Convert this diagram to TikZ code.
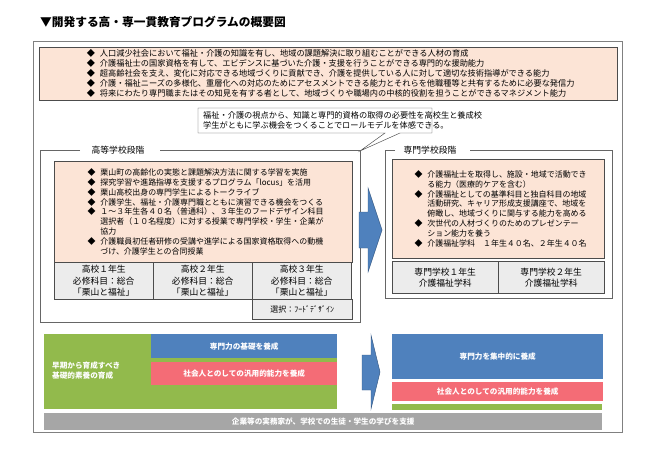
\documentclass[tikz,border=0pt]{standalone}
\usepackage{fontspec}
\setmainfont{Noto Sans CJK JP}
\definecolor{peach}{RGB}{252,228,214}
\definecolor{cellgray}{RGB}{236,236,236}
\definecolor{barblue}{RGB}{79,129,189}
\definecolor{barred}{RGB}{244,108,118}
\definecolor{bargreen}{RGB}{146,186,76}
\definecolor{bargray}{RGB}{166,166,166}
\newcommand{\itm}{\makebox[2.2em][l]{\hspace{0.6em}◆}}
\newcommand{\ind}{\hspace*{2.2em}}
\tikzset{
  peachbox/.style={draw=black!70,fill=peach,anchor=north west,inner sep=2pt,align=left},
  cellbox/.style={draw=black!70,fill=cellgray,anchor=north west,inner sep=0pt,align=center,font=\fontsize{7.5}{9.5}\selectfont},
  barbox/.style={anchor=north west,inner sep=0pt,text=white,font=\fontsize{6.5}{8}\selectfont\bfseries},
  bigarrow/.style={fill=barblue,draw=barblue!70!black}
}
\begin{document}
\begin{tikzpicture}[x=0.03cm,y=-0.03cm]
\useasboundingbox (0,0) rectangle (650,450);
\def\pgfxy{0.03cm}

% title
\node[anchor=west,font=\fontsize{10}{12}\selectfont\bfseries] (title) at (36,22) {▼開発する高・専一貫教育プログラムの概要図};
\draw[black!50] (33,41) rectangle (622,432);

% goals
\node[peachbox,minimum width=578*\pgfxy,font=\fontsize{7}{8.6}\selectfont] (goals) at (39,47) {%
\itm 人口減少社会において福祉・介護の知識を有し、地域の課題解決に取り組むことができる人材の育成\\
\itm 介護福祉士の国家資格を有して、エビデンスに基づいた介護・支援を行うことができる専門的な援助能力\\
\itm 超高齢社会を支え、変化に対応できる地域づくりに貢献でき、介護を提供している人に対して適切な技術指導ができる能力\\
\itm 介護・福祉ニーズの多様化、重層化への対応のためにアセスメントできる能力とそれらを他職種等と共有するために必要な発信力\\
\itm 将来にわたり専門職またはその知見を有する者として、地域づくりや職場内の中核的役割を担うことができるマネジメント能力};

% callout
\coordinate (tail) at (360,151);
\draw[black!70,fill=white] (198,108) -- (432,108) -- (432,133) -- (400,133) -- (tail) -- (385,133) -- (198,133) -- cycle;
\node[anchor=north west,align=left,inner sep=0pt,font=\fontsize{7}{9}\selectfont] (note) at (203,111) {福祉・介護の視点から、知識と専門的資格の取得の必要性を高校生と養成校\\学生がともに学ぶ機会をつくることでロールモデルを体感できる。};

% high school stage
\draw[black!60] (80,150) -- (40,150) -- (40,322) -- (360,322) -- (360,150) -- (160,150);
\node[font=\fontsize{7.5}{9}\selectfont] (hslabel) at (118,150) {高等学校段階};
\node[peachbox,minimum width=298*\pgfxy,minimum height=101*\pgfxy,font=\fontsize{6.8}{8.4}\selectfont] (hsbox) at (54,161) {%
\itm 栗山町の高齢化の実態と課題解決方法に関する学習を実施\\
\itm 探究学習や進路指導を支援するプログラム「locus」を活用\\
\itm 栗山高校出身の専門学生によるトークライブ\\
\itm 介護学生、福祉・介護専門職とともに演習できる機会をつくる\\
\itm １～３年生各４０名（普通科）、３年生のフードデザイン科目\\
\ind 選択者（１０名程度）に対する授業で専門学校・学生・企業が\\
\ind 協力\\
\itm 介護職員初任者研修の受講や進学による国家資格取得への動機\\
\ind づけ、介護学生との合同授業};
\foreach \i/\x in {１/54,２/153,３/252}
  \node[cellbox,minimum width=99*\pgfxy,minimum height=37*\pgfxy] (hs\x) at (\x,262) {高校\i 年生\\必修科目：総合\\「栗山と福祉」};
\node[cellbox,minimum width=100*\pgfxy,minimum height=20*\pgfxy,font=\fontsize{6.8}{8}\selectfont] (sel) at (252,299) {選択：ﾌｰﾄﾞﾃﾞｻﾞｲﾝ};

% vocational stage
\draw[black!60] (395,150) -- (385,150) -- (385,298) -- (612,298) -- (612,150) -- (470,150);
\node[font=\fontsize{7.5}{9}\selectfont] (vslabel) at (430,150) {専門学校段階};
\node[peachbox,minimum width=212*\pgfxy,minimum height=99*\pgfxy,font=\fontsize{6.8}{8.4}\selectfont] (vsbox) at (392,159) {%
\itm 介護福祉士を取得し、施設・地域で活動でき\\
\ind る能力（医療的ケアを含む）\\
\itm 介護福祉としての基準科目と独自科目の地域\\
\ind 活動研究、キャリア形成支援講座で、地域を\\
\ind 俯瞰し、地域づくりに関与する能力を高める\\
\itm 次世代の人材づくりのためのプレゼンテー\\
\ind ション能力を養う\\
\itm 介護福祉学科　１年生４０名、２年生４０名};
\foreach \i/\x in {１/392,２/498}
  \node[cellbox,minimum width=106*\pgfxy,minimum height=32*\pgfxy] (vs\x) at (\x,261) {専門学校\i 年生\\介護福祉学科};

% arrows
\draw[bigarrow] (359,212) -- (368,212) -- (368,188) -- (382,230) -- (368,272) -- (368,248) -- (359,248) -- cycle;
\draw[bigarrow] (362,355) -- (371,355) -- (371,335) -- (380,372) -- (371,409) -- (371,390) -- (362,390) -- cycle;

% bottom bars, high school
\fill[bargreen] (44,334) rectangle (337,409);
\node[barbox,fill=barblue,minimum width=186*\pgfxy,minimum height=24*\pgfxy] (hsblue) at (151,334) {専門力の基礎を養成};
\node[barbox,fill=barred,minimum width=186*\pgfxy,minimum height=23*\pgfxy] (hsred) at (151,362) {社会人とのしての汎用的能力を養成};
\node[barbox,align=left] (green) at (52,362) {早期から育成すべき\\基礎的素養の育成};

% bottom bars, vocational
\node[barbox,fill=barblue,minimum width=211*\pgfxy,minimum height=45*\pgfxy] (vsblue) at (392,334) {専門力を集中的に養成};
\node[barbox,fill=barred,minimum width=211*\pgfxy,minimum height=19*\pgfxy] (vsred) at (392,382) {社会人とのしての汎用的能力を養成};
\fill[bargreen] (392,404) rectangle (602,410);
\node[barbox,fill=bargray,minimum width=558*\pgfxy,minimum height=17*\pgfxy] (support) at (44,413) {企業等の実務家が、学校での生徒・学生の学びを支援};
\end{tikzpicture}
\end{document}
